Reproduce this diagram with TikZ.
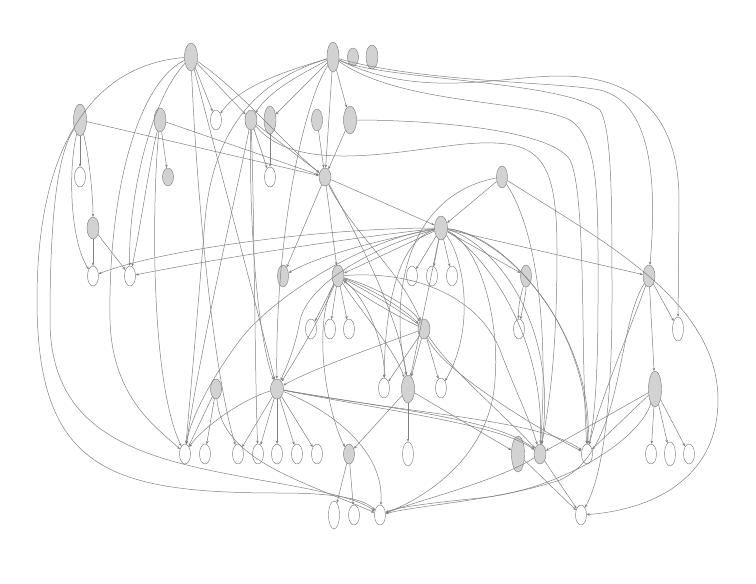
\documentclass[tikz,border=0pt]{standalone}
\usetikzlibrary{shapes.geometric,arrows.meta}
\begin{document}
\begin{tikzpicture}[x=1pt,y=-1pt,
  gn/.style={ellipse,draw=black!50,fill=gray!35,line width=0.45pt,inner sep=0pt},
  wn/.style={ellipse,draw=black!50,fill=white,line width=0.45pt,inner sep=0pt},
  e/.style={draw=black!50,line width=0.5pt,-{Stealth[length=3.2pt,width=2.6pt]}}]
\useasboundingbox (0,0) rectangle (756,584);
\newcommand{\gn}[5]{\node[gn,minimum width=#4pt,minimum height=#5pt] (#1) at (#2,#3) {};}
\newcommand{\wn}[5]{\node[wn,minimum width=#4pt,minimum height=#5pt] (#1) at (#2,#3) {};}
% grey nodes
\gn{G1}{191}{57}{13}{28}
\gn{G2}{333}{57}{12}{30}
\gn{G3}{353}{57}{11}{18}
\gn{G4}{372}{57}{12}{24}
\gn{G5}{80}{120}{13}{32}
\gn{G6}{160}{120}{12}{24}
\gn{G7}{251}{120}{12}{20}
\gn{G8}{270}{120}{12}{28}
\gn{G9}{317}{120}{11}{22}
\gn{G10}{350}{120}{13}{28}
\gn{G11}{168}{177}{11}{18}
\gn{G12}{325}{177}{12}{18}
\gn{G13}{502}{177}{11}{22}
\gn{G14}{93}{228}{12}{22}
\gn{G15}{441}{228}{13}{24}
\gn{G16}{283}{276}{11}{22}
\gn{G17}{338}{276}{12}{22}
\gn{G18}{526}{276}{11}{22}
\gn{G19}{649}{276}{12}{22}
\gn{G20}{424}{329}{12}{20}
\gn{G21}{277}{389}{13}{20}
\gn{G22}{408}{389}{13}{28}
\gn{G23}{216}{389}{11}{20}
\gn{G24}{655}{389}{13}{36}
\gn{G25}{349}{454}{11}{20}
\gn{G26}{518}{454}{13}{36}
\gn{G27}{540}{454}{12}{20}
% white nodes
\wn{W1}{216}{120}{11}{20}
\wn{W2}{80}{177}{11}{20}
\wn{W3}{270}{177}{11}{20}
\wn{W4}{93}{276}{11}{20}
\wn{W5}{130}{276}{11}{20}
\wn{W6}{412}{276}{11}{20}
\wn{W7}{432}{276}{11}{20}
\wn{W8}{452}{276}{11}{20}
\wn{W9}{311}{329}{11}{20}
\wn{W10}{330}{329}{11}{20}
\wn{W11}{349}{329}{11}{20}
\wn{W12}{519}{329}{11}{20}
\wn{W13}{678}{329}{11}{24}
\wn{W14}{384}{388}{11}{20}
\wn{W15}{441}{388}{11}{20}
\wn{W16}{185}{454}{11}{20}
\wn{W17}{205}{454}{11}{20}
\wn{W18}{238}{454}{11}{20}
\wn{W19}{258}{454}{11}{20}
\wn{W20}{277}{454}{11}{20}
\wn{W21}{297}{454}{11}{20}
\wn{W22}{317}{454}{11}{20}
\wn{W23}{408}{454}{11}{24}
\wn{W24}{587}{454}{11}{20}
\wn{W25}{651}{454}{11}{20}
\wn{W26}{670}{454}{11}{24}
\wn{W27}{689}{454}{11}{20}
\wn{W28}{334}{515}{11}{28}
\wn{W29}{354}{515}{11}{20}
\wn{W30}{380}{515}{11}{20}
\wn{W31}{581}{515}{11}{20}
% G1
\draw[e] (G1) .. controls (90,65) and (37,150) .. (37,300) .. controls (37,470) and (110,493) .. (280,493) .. controls (340,493) and (365,500) .. (W30);
\draw[e] (G1) .. controls (135,85) and (108,200) .. (110,320) .. controls (112,400) and (160,430) .. (W16);
\draw[e] (G1) .. controls (150,100) and (128,200) .. (W5);
\draw[e] (G1) -- (W1);
\draw[e] (G1) -- (G7);
\draw[e] (G1) .. controls (240,90) and (290,150) .. (G12);
\draw[e] (G1) .. controls (195,160) and (210,360) .. (W18);
\draw[e] (G1) .. controls (215,150) and (255,300) .. (G21);
% G2
\draw[e] (G2) .. controls (300,75) and (270,90) .. (G7);
\draw[e] (G2) .. controls (290,70) and (240,85) .. (W1);
\draw[e] (G2) -- (G8);
\draw[e] (G2) -- (G10);
\draw[e] (G2) -- (G12);
\draw[e] (G2) .. controls (275,75) and (215,110) .. (205,220) .. controls (197,320) and (190,400) .. (W16);
\draw[e] (G2) .. controls (300,110) and (275,250) .. (G21);
\draw[e] (G2) .. controls (380,80) and (560,80) .. (600,110) .. controls (612,130) and (612,200) .. (612,300) .. controls (612,420) and (600,480) .. (W31);
\draw[e] (G2) .. controls (420,100) and (500,76) .. (560,76) .. controls (640,76) and (679,120) .. (679,200) -- (W13);
\draw[e] (G2) .. controls (420,82) and (560,82) .. (600,90) .. controls (640,100) and (660,150) .. (G19);
\draw[e] (G2) .. controls (400,105) and (530,100) .. (570,120) .. controls (600,140) and (598,200) .. (598,300) .. controls (598,400) and (592,430) .. (W24);
% G5
\draw[e] (G5) -- (W2);
\draw[e] (G5) .. controls (90,160) and (93,200) .. (G14);
\draw[e] (G5) .. controls (68,170) and (70,240) .. (W4);
\draw[e] (G5) -- (G12);
\draw[e] (G5) .. controls (60,150) and (50,200) .. (50,320) .. controls (50,440) and (150,460) .. (260,480) .. controls (330,492) and (360,500) .. (W30);
% G6
\draw[e] (G6) -- (G11);
\draw[e] (G6) -- (G12);
\draw[e] (G6) .. controls (150,160) and (140,230) .. (W5);
\draw[e] (G6) .. controls (152,200) and (150,380) .. (W16);
% G7
\draw[e] (G7) -- (W3);
\draw[e] (G7) -- (G12);
\draw[e] (G7) .. controls (249,200) and (255,330) .. (G21);
\draw[e] (G7) .. controls (254,200) and (255,380) .. (W19);
\draw[e] (G7) .. controls (235,200) and (200,350) .. (W16);
\draw[e] (G7) .. controls (300,180) and (420,145) .. (480,143) .. controls (540,141) and (557,160) .. (557,250) .. controls (557,350) and (550,400) .. (G27);
% G8 G9 G10
\draw[e] (G8) -- (W3);
\draw[e] (G9) -- (G12);
\draw[e] (G10) -- (G12);
\draw[e] (G10) .. controls (420,120) and (550,128) .. (570,160) .. controls (580,180) and (582,250) .. (583,320) .. controls (584,400) and (586,430) .. (W24);
% G12
\draw[e] (G12) -- (G16);
\draw[e] (G12) -- (G17);
\draw[e] (G12) -- (G15);
\draw[e] (G12) .. controls (350,230) and (400,270) .. (G20);
\draw[e] (G12) .. controls (360,240) and (400,320) .. (G22);
% G13
\draw[e] (G13) -- (G15);
\draw[e] (G13) .. controls (530,220) and (550,300) .. (G27);
\draw[e] (G13) .. controls (600,240) and (718,300) .. (718,400) .. controls (718,480) and (650,510) .. (W31);
\draw[e] (G13) .. controls (430,190) and (400,250) .. (400,320) .. controls (400,350) and (405,365) .. (G22);
% G14
\draw[e] (G14) -- (W4);
\draw[e] (G14) -- (W5);
% G15
\draw[e] (G15) .. controls (320,228) and (160,250) .. (W4);
\draw[e] (G15) .. controls (330,240) and (200,262) .. (W5);
\draw[e] (G15) .. controls (380,240) and (320,255) .. (G16);
\draw[e] (G15) -- (G17);
\draw[e] (G15) -- (W6);
\draw[e] (G15) -- (W7);
\draw[e] (G15) -- (W8);
\draw[e] (G15) -- (G18);
\draw[e] (G15) -- (G19);
\draw[e] (G15) .. controls (360,240) and (270,300) .. (240,340) .. controls (210,380) and (190,420) .. (W16);
\draw[e] (G15) .. controls (380,245) and (310,280) .. (300,320) .. controls (295,350) and (285,370) .. (G21);
\draw[e] (G15) .. controls (400,240) and (385,300) .. (W14);
\draw[e] (G15) -- (G22);
\draw[e] (G15) .. controls (465,260) and (475,330) .. (W15);
\draw[e] (G15) .. controls (480,250) and (545,330) .. (G27);
\draw[e] (G15) .. controls (490,240) and (560,320) .. (G27);
\draw[e] (G15) .. controls (500,235) and (590,320) .. (W24);
\draw[e] (G15) .. controls (510,235) and (595,340) .. (W24);
\draw[e] (G15) .. controls (480,245) and (500,320) .. (495,380) .. controls (490,460) and (420,500) .. (W30);
% G17
\draw[e] (G17) -- (W9);
\draw[e] (G17) -- (W10);
\draw[e] (G17) -- (W11);
\draw[e] (G17) .. controls (320,320) and (295,360) .. (G21);
\draw[e] (G17) .. controls (370,300) and (385,350) .. (W14);
\draw[e] (G17) .. controls (370,285) and (410,305) .. (G20);
\draw[e] (G17) .. controls (375,290) and (405,310) .. (G20);
\draw[e] (G20) .. controls (400,310) and (365,290) .. (G17);
\draw[e] (G20) .. controls (395,315) and (360,295) .. (G17);
\draw[e] (G17) .. controls (360,310) and (395,350) .. (G22);
\draw[e] (G17) .. controls (420,270) and (480,300) .. (500,350) .. controls (515,390) and (530,420) .. (G27);
\draw[e] (G17) .. controls (310,330) and (330,420) .. (G25);
% G18
\draw[e] (G18) .. controls (521,295) and (518,305) .. (W12);
\draw[e] (G18) .. controls (526,295) and (523,305) .. (W12);
% G19
\draw[e] (G19) -- (W13);
\draw[e] (G19) -- (G24);
\draw[e] (G19) .. controls (630,330) and (600,400) .. (W24);
\draw[e] (G19) .. controls (615,330) and (625,450) .. (560,480) .. controls (500,500) and (420,505) .. (W30);
% G20
\draw[e] (G20) -- (W14);
\draw[e] (G20) -- (G22);
\draw[e] (G20) -- (W15);
\draw[e] (G20) .. controls (380,345) and (310,370) .. (G21);
\draw[e] (G20) .. controls (450,370) and (510,420) .. (G27);
\draw[e] (G20) .. controls (440,370) and (540,430) .. (W24);
% G21
\draw[e] (G21) .. controls (240,400) and (200,430) .. (W16);
\draw[e] (G21) -- (W18);
\draw[e] (G21) -- (W19);
\draw[e] (G21) -- (W20);
\draw[e] (G21) -- (W21);
\draw[e] (G21) -- (W22);
\draw[e] (G21) .. controls (330,410) and (385,450) .. (W30);
\draw[e] (G21) .. controls (400,410) and (500,420) .. (G27);
\draw[e] (G21) .. controls (400,413) and (500,425) .. (G27);
\draw[e] (G21) .. controls (420,415) and (540,420) .. (W24);
% G22
\draw[e] (G22) -- (W23);
\draw[e] (G22) -- (G25);
\draw[e] (G22) -- (G26);
% G23
\draw[e] (G23) -- (W16);
\draw[e] (G23) -- (W17);
\draw[e] (G23) .. controls (222,460) and (300,480) .. (W30);
% G24
\draw[e] (G24) -- (W25);
\draw[e] (G24) -- (W26);
\draw[e] (G24) -- (W27);
\draw[e] (G24) -- (G27);
\draw[e] (G24) -- (W24);
\draw[e] (G24) .. controls (640,440) and (560,490) .. (480,498) .. controls (420,504) and (395,508) .. (W30);
% G25 G26 G27
\draw[e] (G25) -- (W28);
\draw[e] (G25) -- (W29);
\draw[e] (G26) -- (W31);
\draw[e] (G27) -- (W31);
\draw[e] (G27) .. controls (500,480) and (420,500) .. (W30);
\end{tikzpicture}
\end{document}
